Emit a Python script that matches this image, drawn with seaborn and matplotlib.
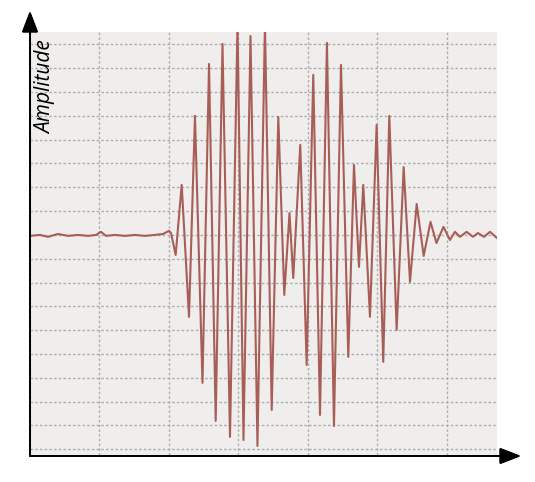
import matplotlib
matplotlib.use("Agg")
import matplotlib.pyplot as plt
import seaborn as sns
import pandas as pd

# waveform turning points, in grid units (x: time divisions, y: amplitude divisions)
time_div = [
    0.000, 0.144, 0.259, 0.403, 0.547, 0.691, 0.835, 0.950, 1.022, 1.094,
    1.223, 1.367, 1.511, 1.655, 1.799, 1.914, 2.000, 2.029,
    2.096, 2.183, 2.288, 2.374, 2.482, 2.576, 2.672, 2.770, 2.878, 2.986,
    3.072, 3.173, 3.273, 3.381, 3.478, 3.573, 3.659, 3.734, 3.788, 3.889,
    3.981, 4.076, 4.173, 4.273, 4.374, 4.475, 4.580, 4.662, 4.734, 4.796,
    4.892, 4.988, 5.083, 5.170, 5.276, 5.377, 5.468, 5.564, 5.665, 5.763,
    5.849, 5.950, 6.043, 6.115, 6.187, 6.283, 6.374, 6.446, 6.532, 6.619,
    6.719,
]
amplitude = [
    -0.04, 0.00, -0.08, 0.04, -0.04, 0.00, -0.04, 0.00, 0.13, -0.04,
    0.00, -0.04, 0.00, -0.04, 0.00, 0.04, 0.17, 0.08,
    -0.84, 2.10, -3.44, 5.00, -6.21, 7.18, -7.81, 8.02, -8.48, 8.86,
    -8.61, 8.35, -8.86, 8.86, -7.35, 4.95, -2.52, 0.92, -1.81, 3.78,
    -5.46, 6.72, -7.56, 8.06, -8.02, 7.14, -5.12, 2.94, -1.34, 2.10,
    -3.44, 4.62, -5.33, 5.00, -3.99, 2.85, -1.97, 1.30, -0.88, 0.55,
    -0.34, 0.34, -0.21, 0.13, -0.08, 0.13, -0.08, 0.08, -0.08, 0.13,
    -0.13,
]
x_grid = [0, 1, 2, 3, 4, 5, 6]
y_grid = list(range(-9, 9))

df = pd.DataFrame({"t": time_div, "a": amplitude})

sns.set_theme(style="white")
plt.rcParams["font.family"] = ["Open Sans", "DejaVu Sans"]

W, H = 535, 482
fig = plt.figure(figsize=(W / 100, H / 100), dpi=100)
ax = fig.add_axes([30 / W, 1 - 455 / H, 467 / W, 423 / H])
ax.set_facecolor("#efeeed")

sns.lineplot(data=df, x="t", y="a", sort=False, estimator=None,
             color="#a85e57", linewidth=1.5, ax=ax)

ax.set_xlim(0, 6.72)
ax.set_ylim(-9.24, 8.52)
ax.set_xticks(x_grid)
ax.set_yticks(y_grid)
ax.grid(True, color="#acacac", linestyle=(0, (1.8, 1.6)), linewidth=1.0)
ax.tick_params(left=False, bottom=False, labelleft=False, labelbottom=False)
ax.set_xlabel("")
ax.set_ylabel("")
for s in ax.spines.values():
    s.set_visible(False)

# axis arrows
arrow = dict(arrowstyle="-|>,head_length=0.65,head_width=0.25",
             color="black", lw=1.3, mutation_scale=20, shrinkA=0, shrinkB=0)
fig.add_artist(plt.annotate("", xy=(30 / W, 1 - 11 / H), xytext=(30 / W, 1 - 456 / H),
                            xycoords="figure fraction", arrowprops=arrow))
fig.add_artist(plt.annotate("", xy=(521 / W, 1 - 456 / H), xytext=(30 / W, 1 - 456 / H),
                            xycoords="figure fraction", arrowprops=arrow))

fig.text(46 / W, 1 - 87 / H, "Amplitude", rotation=90, ha="center", va="center",
         fontsize=15, style="italic", color="black")

plt.savefig("out.png", dpi=100)
